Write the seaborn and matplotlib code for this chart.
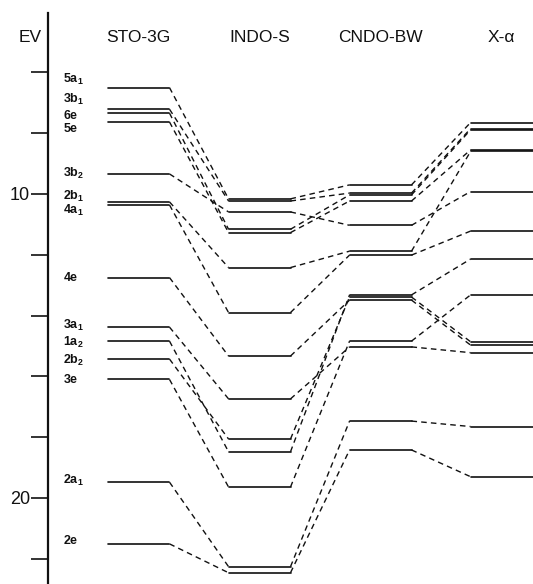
import matplotlib
matplotlib.use("Agg")
import matplotlib.pyplot as plt
import numpy as np
import pandas as pd
import seaborn as sns

# orbital energies (eV), one list per method, same orbital order
methods = ["STO-3G", "INDO-S", "CNDO-BW", "X-α"]
orbitals = ["5a1", "3b1", "6e", "5e", "3b2", "2b1", "4a1",
            "4e", "3a1", "1a2", "2b2", "3e", "2a1", "2e"]
orbital_labels = [r"$\mathbf{5a}_\mathbf{1}$", r"$\mathbf{3b}_\mathbf{1}$", r"$\mathbf{6e}$",
                  r"$\mathbf{5e}$", r"$\mathbf{3b}_\mathbf{2}$", r"$\mathbf{2b}_\mathbf{1}$",
                  r"$\mathbf{4a}_\mathbf{1}$", r"$\mathbf{4e}$", r"$\mathbf{3a}_\mathbf{1}$",
                  r"$\mathbf{1a}_\mathbf{2}$", r"$\mathbf{2b}_\mathbf{2}$", r"$\mathbf{3e}$",
                  r"$\mathbf{2a}_\mathbf{1}$", r"$\mathbf{2e}$"]
sto3g = [6.50, 7.21, 7.34, 7.63, 9.34, 10.26, 10.36, 12.75, 14.38, 14.84, 15.43, 16.10, 19.48, 21.51]
indo_s = [10.16, 10.23, 11.16, 11.27, 10.59, 12.42, 13.90, 15.33, 16.74, 18.48, 18.06, 19.64, 22.26, 22.46]
cndo_bw = [9.70, 9.97, 10.03, 10.23, 11.03, 11.88, 12.01, 13.49, 15.03, 13.32, 13.39, 14.84, 17.47, 18.42]
x_alpha = [7.65, 7.85, 7.89, 8.55, 9.92, 8.60, 11.22, 14.97, 15.22, 12.14, 14.86, 13.32, 17.65, 19.30]
y_ticks = [6, 8, 10, 12, 14, 16, 18, 20, 22]
y_tick_labels = ["", "", "10", "", "", "", "", "20", ""]

energies = [sto3g, indo_s, cndo_bw, x_alpha]
hw = 0.256  # half width of a level bar, in column units

# build level bars and dashed connectors
level_rows, link_rows = [], []
for i, col in enumerate(energies):
    for j, e in enumerate(col):
        seg = f"{i}-{j}"
        level_rows += [{"x": i - hw, "E": e, "seg": seg}, {"x": i + hw, "E": e, "seg": seg}]
        if i + 1 < len(energies):
            e2 = energies[i + 1][j]
            link_rows += [{"x": i + hw, "E": e, "seg": seg}, {"x": i + 1 - hw, "E": e2, "seg": seg}]
levels = pd.DataFrame(level_rows)
links = pd.DataFrame(link_rows)

sns.set_theme(style="white")
plt.rcParams["font.family"] = ["Liberation Sans", "DejaVu Sans"]
plt.rcParams["mathtext.fontset"] = "custom"
plt.rcParams["mathtext.bf"] = "Liberation Sans:bold"
plt.rcParams["mathtext.rm"] = "Liberation Sans"

fig = plt.figure(figsize=(5.33, 5.84), dpi=100)
ax = fig.add_axes([48 / 533, 0, 1 - 48 / 533, 1])

sns.lineplot(data=levels, x="x", y="E", units="seg", estimator=None, sort=False,
             color="#111111", lw=1.2, legend=False, ax=ax)
sns.lineplot(data=links, x="x", y="E", units="seg", estimator=None, sort=False,
             color="#111111", lw=1.0, linestyle=(0, (4, 3)), legend=False, ax=ax)

ax.set_xlim(-0.748, 3.26)
ax.set_ylim(22.83, 3.618)
ax.set_xlabel("")
ax.set_ylabel("")
ax.set_xticks([])
for s in ["top", "right", "bottom"]:
    ax.spines[s].set_visible(False)
ax.spines["left"].set_bounds(4.05, 22.83)
ax.spines["left"].set_linewidth(1.6)
ax.spines["left"].set_color("#111111")
ax.set_yticks(y_ticks)
ax.set_yticklabels(y_tick_labels, fontsize=13)
ax.tick_params(axis="y", direction="out", length=12, width=1.2, pad=1,
               colors="#111111", left=True)

for i, name in enumerate(methods):
    ax.text(i, 4.84, name, ha="center", va="center", fontsize=12.5, color="#111111")
fig.text(30 / 533, 1 - 37 / 584, "EV", ha="center", va="center", fontsize=12.5, color="#111111")

label_shift = [-0.26, -0.33, 0.07, 0.2, 0.0, -0.18, 0.18, 0.0, -0.05, 0.05, 0.05, 0.0, -0.05, -0.1]
for j, lab in enumerate(orbital_labels):
    ax.text(-0.62, sto3g[j] + label_shift[j], lab, ha="left", va="center",
            fontsize=9, color="#111111")

fig.savefig("out.png", dpi=100, facecolor="white")
